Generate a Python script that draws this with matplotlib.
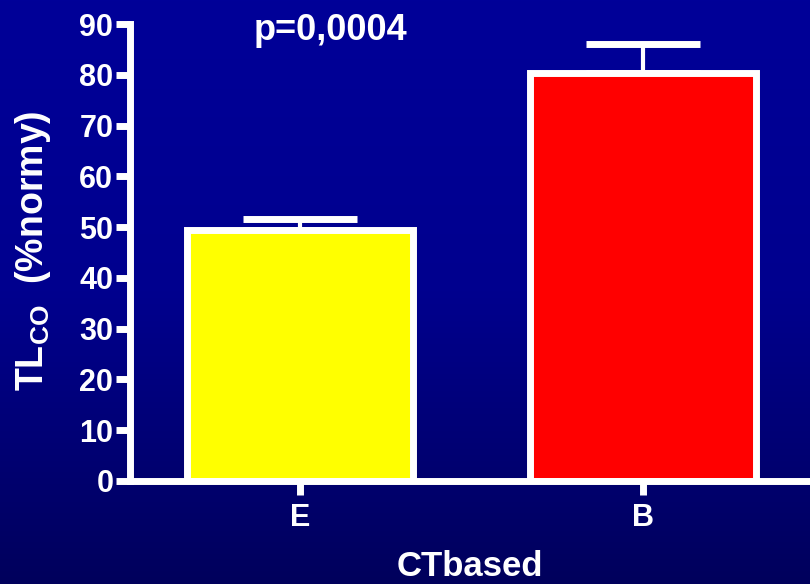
import numpy as np
import matplotlib
matplotlib.use("Agg")
import matplotlib.pyplot as plt
from matplotlib.colors import LinearSegmentedColormap

plt.rcParams['font.family'] = ['Liberation Sans', 'DejaVu Sans']
plt.rcParams['font.weight'] = 'bold'
plt.rcParams['mathtext.fontset'] = 'custom'
plt.rcParams['mathtext.rm'] = 'Liberation Sans:bold'
plt.rcParams['mathtext.bf'] = 'Liberation Sans:bold'

# Data
categories = ["E", "B"]
means = [49.4, 80.3]
errors = [2.2, 5.7]
bar_colors = ["#FFFF00", "#FF0000"]
y_ticks = [0, 10, 20, 30, 40, 50, 60, 70, 80, 90]
p_text = "p=0,0004"

fig = plt.figure(figsize=(8.10, 5.84), dpi=100)

# Vertical blue gradient background
bg = fig.add_axes([0, 0, 1, 1], zorder=-10)
grad = np.linspace(0, 1, 256).reshape(-1, 1)
cmap = LinearSegmentedColormap.from_list("bg", ["#000098", "#00008E", "#00005C"])
bg.imshow(grad, aspect="auto", cmap=cmap, extent=[0, 1, 0, 1], origin="upper")
bg.set_axis_off()

ax = fig.add_axes([130 / 810, 1 - 481 / 584, 1 - 130 / 810, (481 - 24) / 584])
ax.patch.set_visible(False)

x = np.arange(len(categories))
ax.bar(x, means, width=0.66, color=bar_colors, edgecolor="white",
       linewidth=5, zorder=2)
ax.errorbar(x, means, yerr=[np.zeros(len(errors)), errors], fmt="none",
            ecolor="white", elinewidth=3, capsize=41, capthick=5, zorder=1)

ax.set_xlim(-0.496, 1.487)
ax.set_ylim(0, 90)
ax.set_yticks(y_ticks)
ax.set_xticks(x)
ax.set_xticklabels(categories)

for side in ("top", "right"):
    ax.spines[side].set_visible(False)
for side in ("left", "bottom"):
    ax.spines[side].set_color("white")
    ax.spines[side].set_linewidth(5)
    ax.spines[side].set_capstyle("projecting")

ax.tick_params(axis="both", colors="white", width=5, length=10,
               direction="out", labelsize=22)
ax.tick_params(axis="y", pad=2)
ax.tick_params(axis="x", pad=6)
for lbl in ax.get_xticklabels() + ax.get_yticklabels():
    lbl.set_fontweight("bold")

fig.text(470 / 810, 1 - 567 / 584, "CTbased", color="white", fontsize=25,
         fontweight="bold", ha="center", va="center")
fig.text(33 / 810, 1 - 251 / 584, r"$\mathbf{TL}_{\mathbf{CO}}$  (%normy)",
         rotation=90, color="white", fontsize=27, fontweight="bold",
         ha="center", va="center")

fig.text(331 / 810, 1 - 30 / 584, p_text, color="white", fontsize=26,
         fontweight="bold", ha="center", va="center")

fig.savefig("out.png", dpi=100)
